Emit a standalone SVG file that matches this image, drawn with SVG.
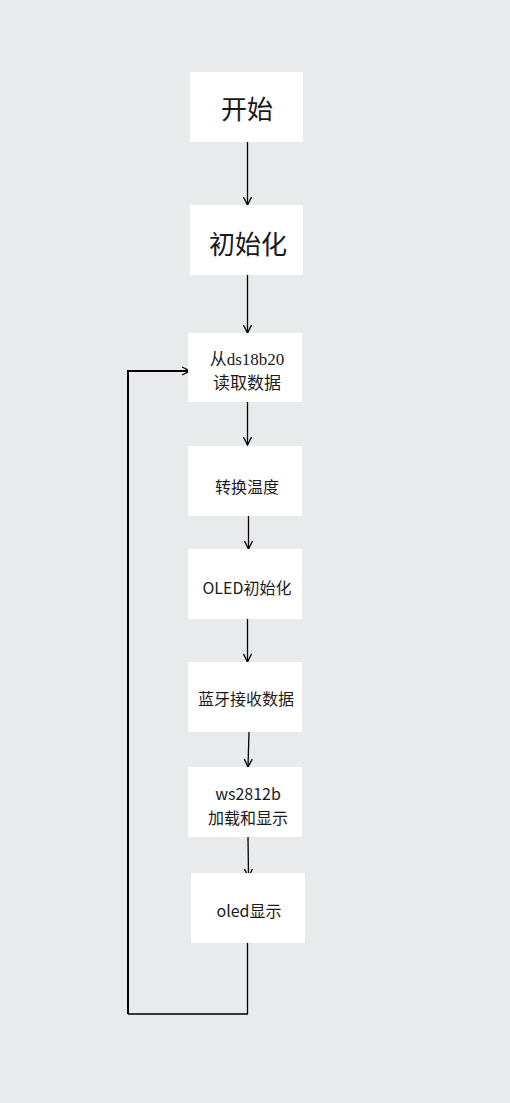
<svg xmlns="http://www.w3.org/2000/svg" width="510" height="1103" viewBox="0 0 510 1103">
<defs>
<style>
.box{fill:#ffffff;}
.t{font-family:"Noto Sans CJK SC","Noto Sans",sans-serif;fill:#1a1a1a;text-anchor:middle;dominant-baseline:central;}
.big{font-size:26px;}
.mid{font-size:16px;}
.serif{font-family:"Liberation Serif","Noto Sans CJK SC",serif;font-size:17px;}
.c{stroke:#000;stroke-width:1.3;fill:none;}
.loop{stroke:#000;stroke-width:2;fill:none;}
</style>
<marker id="ah" viewBox="0 0 10 10" refX="9" refY="5" markerWidth="10" markerHeight="10" markerUnits="userSpaceOnUse" orient="auto">
<path d="M1,1 L9,5 L1,9" fill="none" stroke="#000" stroke-width="1.3"/>
</marker>
</defs>
<rect width="510" height="1103" fill="#e9eaec"/>
<g id="connectors">
<line class="c" x1="247.5" y1="142" x2="247.5" y2="205" marker-end="url(#ah)"/>
<line class="c" x1="247.5" y1="275" x2="247.5" y2="333" marker-end="url(#ah)"/>
<line class="c" x1="247.5" y1="402" x2="247.5" y2="445" marker-end="url(#ah)"/>
<line class="c" x1="248.5" y1="516" x2="248.5" y2="549" marker-end="url(#ah)"/>
<line class="c" x1="247.5" y1="619" x2="247.5" y2="662" marker-end="url(#ah)"/>
<line class="c" x1="249" y1="732" x2="248" y2="767" marker-end="url(#ah)"/>
<line class="c" x1="248" y1="837" x2="248.5" y2="877" marker-end="url(#ah)"/>
<polyline class="c" points="247.5,943 247.5,1014 128,1014"/>
<polyline class="loop" points="128,1014 128,371 190,371" marker-end="url(#ah)"/>
</g>
<g id="n1"><rect class="box" x="190" y="72" width="113" height="70"/><text class="t big" x="247" y="107">开始</text></g>
<g id="n2"><rect class="box" x="190" y="205" width="113" height="70"/><text class="t big" x="248" y="242">初始化</text></g>
<g id="n3"><rect class="box" x="188" y="333" width="114" height="69"/><text class="t serif" x="247" y="359">从ds18b20</text><text class="t serif" x="247" y="383">读取数据</text></g>
<g id="n4"><rect class="box" x="188" y="446" width="114" height="70"/><text class="t mid" x="247" y="486">转换温度</text></g>
<g id="n5"><rect class="box" x="188" y="549" width="114" height="70"/><text class="t mid" x="247" y="587">OLED初始化</text></g>
<g id="n6"><rect class="box" x="188" y="662" width="114" height="70"/><text class="t mid" x="246" y="698">蓝牙接收数据</text></g>
<g id="n7"><rect class="box" x="188" y="767" width="114" height="70"/><text class="t mid" x="248" y="793">ws2812b</text><text class="t mid" x="248" y="817">加载和显示</text></g>
<g id="n8"><rect class="box" x="191" y="873" width="114" height="70"/><text class="t mid" x="249" y="910">oled显示</text></g>
</svg>
